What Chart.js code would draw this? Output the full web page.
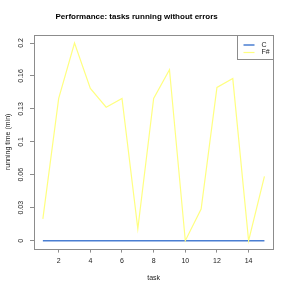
<!DOCTYPE html>
<html>
<head>
<meta charset="utf-8">
<script src="https://cdn.jsdelivr.net/npm/chart.js@4/dist/chart.umd.min.js"></script>
<style>
html,body{margin:0;padding:0;background:#fff;}
canvas{display:block;}
</style>
</head>
<body>
<canvas id="c" width="291" height="291"></canvas>
<script>
const tasks = [1,2,3,4,5,6,7,8,9,10,11,12,13,14,15];
const cValues = [0,0,0,0,0,0,0,0,0,0,0,0,0,0,0];
const fsValues = [0.022,0.144,0.2,0.154,0.135,0.144,0.012,0.144,0.173,0,0.032,0.155,0.164,0,0.065];
const xTickValues = [2,4,6,8,10,12,14];
const yTickValues = [0,0.0333,0.0667,0.1,0.1333,0.1667,0.2];
const yTickLabels = ["0","0.03","0.06","0.1","0.13","0.16","0.2"];
const seriesNames = ["C","F#"];

const FONT = "'Liberation Sans', Arial, Helvetica, sans-serif";
const GRAY = "#8c8c8c";

const framePlugin = {
  id: 'frame',
  afterDatasetsDraw(chart) {
    const {ctx, chartArea: a} = chart;
    ctx.save();
    ctx.strokeStyle = GRAY;
    ctx.lineWidth = 1;
    ctx.strokeRect(Math.round(a.left)+0.5, Math.round(a.top)+0.5, Math.round(a.right-a.left), Math.round(a.bottom-a.top));
    // legend inside top-right
    const ds = chart.data.datasets;
    const bw = 36, bh = 24;
    const bx = Math.round(a.right) - bw + 0.5, by = Math.round(a.top) + 0.5;
    ctx.fillStyle = '#fff';
    ctx.fillRect(bx, by, bw, bh);
    ctx.strokeRect(bx, by, bw, bh);
    ctx.font = "7px " + FONT;
    ctx.textBaseline = 'middle';
    ctx.textAlign = 'left';
    ds.forEach((d, i) => {
      const y = by + 9.5 + i * 7.5;
      ctx.strokeStyle = d.borderColor;
      ctx.lineWidth = d.borderWidth;
      ctx.beginPath();
      ctx.moveTo(bx + 6, y);
      ctx.lineTo(bx + 17, y);
      ctx.stroke();
      ctx.fillStyle = '#222';
      ctx.fillText(d.label, bx + 24, y);
    });
    ctx.restore();
  }
};

new Chart(document.getElementById('c'), {
  type: 'line',
  data: {
    datasets: [
      { label: seriesNames[0], data: tasks.map((t,i)=>({x:t,y:cValues[i]})), borderColor: '#4a7ed2', borderWidth: 1.5, pointRadius: 0, tension: 0, order: 1 },
      { label: seriesNames[1], data: tasks.map((t,i)=>({x:t,y:fsValues[i]})), borderColor: '#ffff80', borderWidth: 1.2, pointRadius: 0, tension: 0, order: 0 }
    ]
  },
  options: {
    responsive: false,
    animation: false,
    devicePixelRatio: 1,
    layout: { padding: { left: 0, right: 17.7, top: 0, bottom: 0 } },
    plugins: {
      legend: { display: false },
      tooltip: { enabled: false },
      title: {
        display: true,
        text: 'Performance: tasks running without errors',
        color: '#000',
        font: { family: FONT, size: 8, weight: 'bold', lineHeight: 1.2 },
        padding: { top: 11.9, bottom: 13.6 }
      }
    },
    scales: {
      x: {
        type: 'linear',
        min: 0.44, max: 15.56,
        afterBuildTicks: s => { s.ticks = xTickValues.map(v => ({value: v})); },
        afterFit: s => { s.height = 42.4; },
        border: { display: false },
        grid: { drawOnChartArea: false, drawTicks: true, tickLength: 4, color: GRAY },
        ticks: { color: '#222', font: { family: FONT, size: 7 }, padding: 4, maxRotation: 0, autoSkip: false },
        title: { display: true, text: 'task', color: '#222', font: { family: FONT, size: 7, lineHeight: 1.2 }, padding: { top: 0, bottom: 8.5 } }
      },
      y: {
        type: 'linear',
        min: -0.008, max: 0.208,
        afterBuildTicks: s => { s.ticks = yTickValues.map(v => ({value: v})); },
        afterFit: s => { s.width = 34; },
        border: { display: false },
        grid: { drawOnChartArea: false, drawTicks: true, tickLength: 4, color: GRAY },
        ticks: {
          color: '#222', font: { family: FONT, size: 7 }, padding: 2, autoSkip: false,
          minRotation: 90, maxRotation: 90, crossAlign: 'center',
          callback: (v, i) => yTickLabels[i]
        },
        title: { display: true, text: 'running time (min)', color: '#222', font: { family: FONT, size: 7, lineHeight: 1.2 }, padding: { top: 4, bottom: 0 } }
      }
    }
  },
  plugins: [framePlugin]
});
</script>
</body>
</html>
